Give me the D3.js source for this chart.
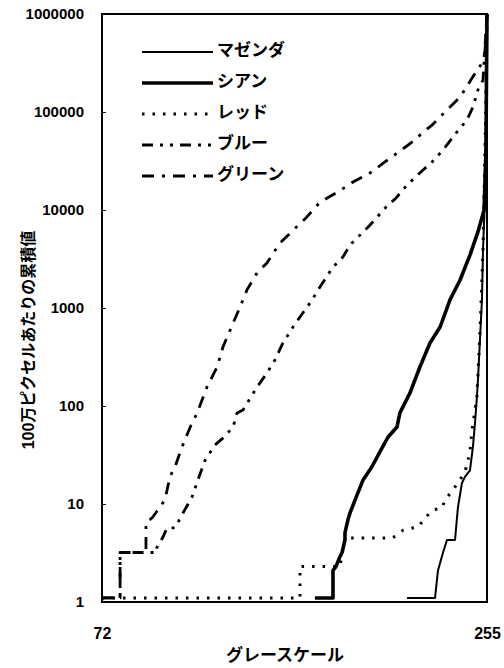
<!DOCTYPE html>
<html>
<head>
<meta charset="utf-8">
<script src="https://cdn.jsdelivr.net/npm/d3@7"></script>
<style>
  body { margin: 0; background: #fff; }
  text { font-family: "Liberation Sans", "Noto Sans CJK JP", sans-serif; font-weight: bold; fill: black; }
</style>
</head>
<body>
<div id="wrapper"></div>
<script>
// [grayscale, cumulative count per million pixels]
const magentaData = [[217, 1.1], [230.3, 1.1], [231.7, 2.1], [234.1, 3.2], [236, 4.3], [239.8, 4.3],
  [241.2, 9.3], [243.1, 16.4], [244.5, 18.9], [246.9, 22], [248.3, 38], [249.3, 67], [250.2, 124],
  [250.7, 184], [252.6, 1210], [253.1, 3900], [254, 12650], [254.5, 82800], [255, 1000000]]

const cyanData = [[173.2, 1.1], [181.8, 1.1], [181.8, 2.1], [183.2, 2.3], [185.1, 2.9], [186.1, 3.2],
  [187.5, 4.3], [187.5, 5.1], [188.9, 6.9], [189.9, 8.1], [192.3, 11], [196.1, 17.6], [200.3, 24],
  [204.1, 34], [207.9, 48], [212.2, 61], [213.6, 85], [218.4, 136], [223.1, 250], [227.9, 440],
  [232.7, 640], [237.4, 1210], [242.2, 1930], [246.9, 3470], [250.7, 5970], [253.6, 10000],
  [254.5, 41000], [255, 1000000]]

const redData = [[72, 1.1], [166.1, 1.1], [166.1, 2.3], [182.7, 2.3], [185.1, 2.3], [187.5, 4.5],
  [209.8, 4.5], [212.2, 4.8], [215.1, 5.4], [219.8, 5.7], [222.2, 5.8], [225.5, 7.2], [229.3, 8.7],
  [233.6, 9.1], [235, 11], [238.8, 13.9], [244.5, 21], [246.9, 34], [247.9, 57], [249.3, 91],
  [250.2, 124], [251.7, 600], [253.1, 3900], [254.5, 132000], [255, 1000000]]

const blueData = [[72, 1.1], [80.6, 1.1], [80.6, 3.2], [98.1, 3.2], [98.1, 3.6], [101, 4.6],
  [102.9, 5.7], [106.7, 5.7], [110.5, 8.1], [114.8, 11.8], [117.6, 17.6], [121, 28], [125.7, 40],
  [129.5, 47], [134.3, 61], [136.2, 85], [139, 91], [145.7, 156], [150.4, 217], [154.2, 295],
  [158, 440], [162.8, 640], [166.1, 810], [170.9, 1125], [175.6, 1640], [181.8, 2620], [186.5, 3310],
  [189.9, 4400], [193.7, 5300], [199.4, 7030], [207, 10700], [211.7, 13200], [217, 18000],
  [224.6, 25600], [228.9, 30900], [234.1, 41000], [240.7, 62500], [245.5, 82800], [248.3, 112000],
  [250.7, 168000], [253.1, 212000], [255, 1000000]]

const greenData = [[72, 1.1], [80.6, 1.1], [80.6, 3.2], [92.9, 3.2], [92.9, 6.5], [95.8, 7.2],
  [101.9, 11], [104.3, 18.9], [106.7, 24], [110, 38], [113.8, 60], [117.2, 85], [121.9, 156],
  [126.7, 250], [129.5, 400], [134.3, 700], [137.6, 1020], [140.9, 1530], [145.7, 2280], [150.4, 2880],
  [156.6, 4600], [161.4, 5800], [169.4, 8500], [175.6, 12000], [184.2, 15300], [191.3, 19300],
  [199.4, 23900], [206.5, 30900], [213.6, 40000], [220.8, 51800], [224.1, 61000], [228.9, 73600],
  [236, 105000], [242.2, 142000], [247.9, 222000], [252.6, 316000], [254, 400000], [255, 1000000]]

const seriesNames = ["マゼンダ", "シアン", "レッド", "ブルー", "グリーン"]
const yTickValues = [1, 10, 100, 1000, 10000, 100000, 1000000]
const xTickValues = [72, 255]

function drawChart() {

    // Dimensions
    let dimensions = {
        width: 504,
        height: 668,
        margin: {
            top: 14,
            right: 17,
            bottom: 66,
            left: 102,
        },
    }
    dimensions.boundedWidth = dimensions.width
        - dimensions.margin.left
        - dimensions.margin.right
    dimensions.boundedHeight = dimensions.height
        - dimensions.margin.top
        - dimensions.margin.bottom

    // Canvas
    const wrapper = d3.select("#wrapper")
        .append("svg")
        .attr("width", dimensions.width)
        .attr("height", dimensions.height)

    const bounds = wrapper.append("g")
        .attr("transform", `translate(${dimensions.margin.left}, ${dimensions.margin.top})`)

    // Scales
    const xScale = d3.scaleLinear()
        .domain([72, 255])
        .range([0, dimensions.boundedWidth])

    const yScale = d3.scaleLog()
        .domain([1, 1000000])
        .range([dimensions.boundedHeight, 0])

    // series styles
    const styles = [
        { data: magentaData, width: 2, dash: null },
        { data: cyanData, width: 3.6, dash: null },
        { data: redData, width: 3, dash: "2.5,8" },
        { data: blueData, width: 2.8, dash: "11,7,3,7,3,7" },
        { data: greenData, width: 2.8, dash: "12,8,3,8" },
    ]

    const lineGenerator = d3.line()
        .x(d => xScale(d[0]))
        .y(d => yScale(d[1]))

    // draw order: dashed ones first, solids on top
    const order = [2, 3, 4, 0, 1]
    bounds.append("g")
        .selectAll("path")
        .data(order.map(i => styles[i]))
        .join("path")
            .attr("d", d => lineGenerator(d.data))
            .attr("fill", "none")
            .attr("stroke", "black")
            .attr("stroke-width", d => d.width)
            .attr("stroke-dasharray", d => d.dash)
            .attr("stroke-linejoin", "round")

    // Frame
    bounds.append("rect")
        .attr("width", dimensions.boundedWidth)
        .attr("height", dimensions.boundedHeight)
        .attr("fill", "none")
        .attr("stroke", "black")
        .attr("stroke-width", 2)

    // y-axis
    const yAxisGenerator = d3.axisLeft()
        .scale(yScale)
        .tickValues(yTickValues)
        .tickFormat(d3.format("d"))
        .tickSize(-4)
        .tickPadding(18)

    const yAxis = bounds.append("g")
        .call(yAxisGenerator)
    yAxis.select(".domain").remove()
    yAxis.selectAll("text")
        .style("font-size", "15px")
        .style("font-family", "Liberation Sans")
        .style("font-weight", "bold")
        .attr("fill", "black")

    // x-axis
    const xAxisGenerator = d3.axisBottom()
        .scale(xScale)
        .tickValues(xTickValues)
        .tickSize(0)
        .tickPadding(26)

    const xAxis = bounds.append("g")
        .attr("transform", `translate(0, ${dimensions.boundedHeight})`)
        .call(xAxisGenerator)
    xAxis.select(".domain").remove()
    xAxis.selectAll("text")
        .style("font-size", "16px")
        .style("font-family", "Liberation Sans")
        .style("font-weight", "bold")
        .attr("fill", "black")

    // axis labels
    wrapper.append("text")
        .attr("x", 285)
        .attr("y", 657)
        .attr("text-anchor", "middle")
        .attr("dominant-baseline", "middle")
        .style("font-size", "17px")
        .text("グレースケール")

    wrapper.append("text")
        .attr("transform", "translate(30, 340) rotate(-90)")
        .attr("text-anchor", "middle")
        .attr("dominant-baseline", "middle")
        .style("font-size", "16px")
        .text("100万ピクセルあたりの累積値")

    // Legend
    const legend = wrapper.append("g")
        .selectAll("g")
        .data(styles)
        .join("g")
            .attr("transform", (d, i) => `translate(142, ${52 + i * 31})`)

    legend.append("line")
        .attr("x1", 0)
        .attr("x2", 71)
        .attr("stroke", "black")
        .attr("stroke-width", d => d.width)
        .attr("stroke-dasharray", d => d.dash)

    legend.append("text")
        .attr("x", 75)
        .attr("dominant-baseline", "middle")
        .style("font-size", "17px")
        .text((d, i) => seriesNames[i])
}
drawChart()
</script>
</body>
</html>
